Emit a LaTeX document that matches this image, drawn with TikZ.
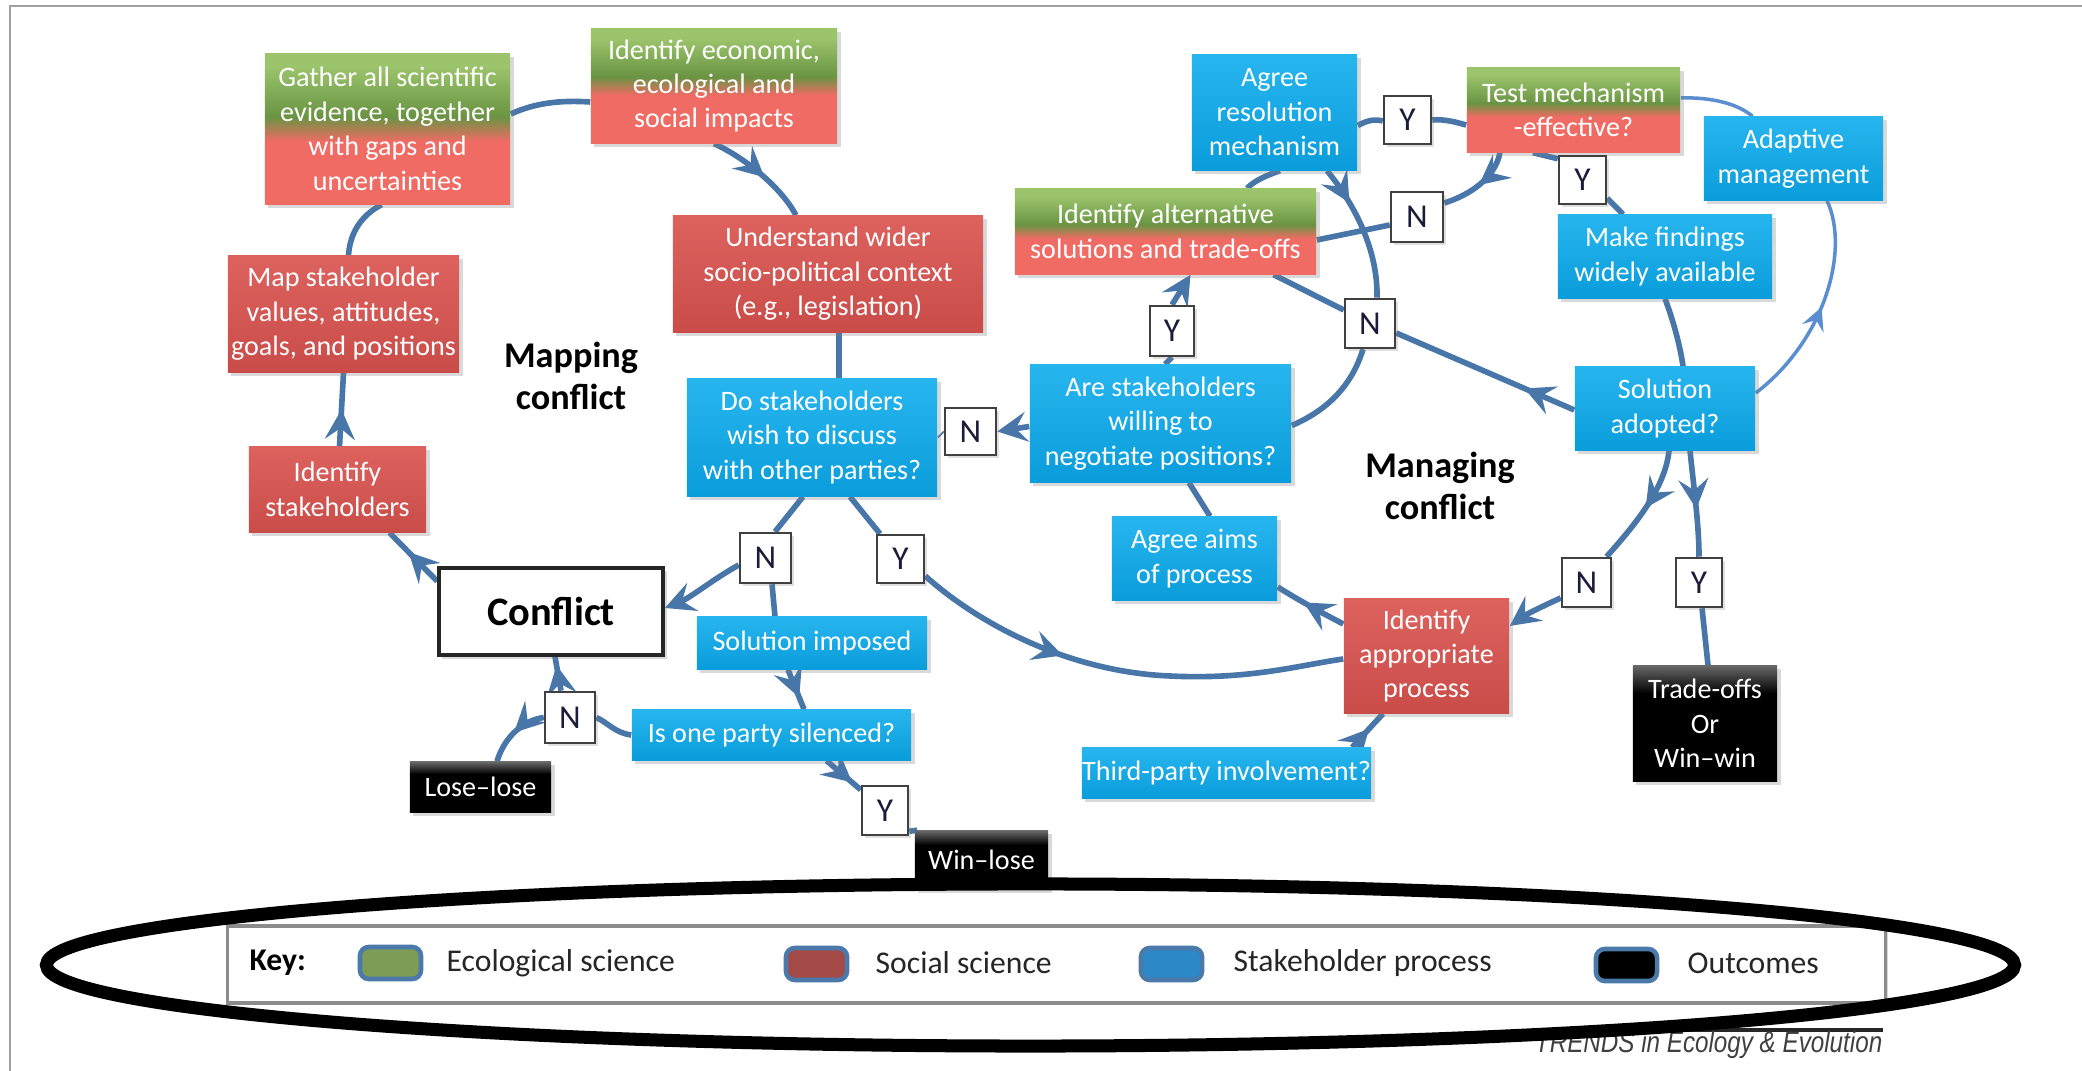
\documentclass[tikz,border=0pt]{standalone}
\usepackage{fontspec}
\setmainfont{Carlito}
\newfontfamily\arialf{Liberation Sans}
\usetikzlibrary{arrows.meta,shadows,decorations.markings,calc}
\pgfdeclarelayer{bg}
\pgfsetlayers{bg,main}
\definecolor{conn}{HTML}{4876A8}
\definecolor{connthin}{HTML}{5A8ED0}
\definecolor{stkblue}{HTML}{0A9DDB}
\definecolor{stkbluelt}{HTML}{27B5EE}
\definecolor{socred}{HTML}{C94C49}
\definecolor{socredlt}{HTML}{DD625E}
\definecolor{socsal}{HTML}{EF6B64}
\definecolor{ecogreen}{HTML}{6A9443}
\definecolor{ecogreenlt}{HTML}{9CC46C}
\definecolor{lblnavy}{HTML}{1B1B3A}
\definecolor{legblue}{HTML}{2D88C8}
\definecolor{leggreen}{HTML}{7E9C56}
\definecolor{legred}{HTML}{A34A47}
\definecolor{legborder}{HTML}{4B79A9}
\definecolor{framegray}{HTML}{A0A0A0}
\pgfdeclareverticalshading{ecosocshade}{100bp}{color(0bp)=(socsal); color(25bp)=(socsal); color(46bp)=(socsal); color(54bp)=(ecogreen); color(71bp)=(ecogreenlt); color(100bp)=(ecogreenlt)}
\pgfdeclareverticalshading{outshade}{100bp}{color(0bp)=(black); color(63bp)=(black); color(75bp)=(black!60); color(100bp)=(black!60)}
\tikzset{
  sz/.style 2 args={minimum width=#1*0.1mm, minimum height=#2*0.1mm},
  box/.style={rectangle, inner sep=0pt, align=center, text=white, font=\fontsize{8}{9.8}\selectfont, drop shadow={shadow xshift=1pt, shadow yshift=-1pt, opacity=0.3}},
  stk/.style={box, top color=stkbluelt, bottom color=stkblue},
  soc/.style={box, top color=socredlt, bottom color=socred},
  ecosoc/.style={box, shade, shading=ecosocshade},
  outcome/.style={box, shade, shading=outshade},
  yn/.style={rectangle, draw=black!75, line width=0.7pt, fill=white, inner sep=0pt, text=lblnavy, font=\fontsize{9.5}{10}\selectfont, drop shadow={shadow xshift=0.8pt, shadow yshift=-0.8pt, opacity=0.25}},
  conflictbox/.style={rectangle, draw=black!85, line width=1pt, fill=white, inner sep=0pt, font=\bfseries\fontsize{11.5}{12}\selectfont, drop shadow={shadow xshift=1pt, shadow yshift=-1pt, opacity=0.3}},
  bigtxt/.style={font=\bfseries\fontsize{10.3}{11.8}\selectfont, align=center, text=black},
  cn/.style={draw=conn, line width=1.6pt},
  cnthin/.style={draw=connthin, line width=1.0pt},
  endarr/.style={-{Stealth[length=8.5pt,width=8.5pt,inset=3.2pt]}},
  midarr/.style={postaction={decorate, decoration={markings, mark=at position #1 with {\arrow[conn]{Stealth[length=8.5pt,width=8.5pt,inset=3.2pt]}}}}},
  midarrthin/.style={postaction={decorate, decoration={markings, mark=at position #1 with {\arrow[connthin]{Stealth[length=6.5pt,width=6.5pt,inset=2.5pt]}}}}},
  swatch/.style={rectangle, rounded corners=2.5pt, draw=legborder, line width=1.3pt, sz={61}{32}},
  legtext/.style={anchor=west, inner sep=0pt, font=\fontsize{9}{10}\selectfont, text=black!85},
}
\begin{document}
\begin{tikzpicture}[x=0.01cm,y=-0.01cm]
\useasboundingbox (0,0) rectangle (2082,1071);
% ---------- nodes ----------
\node[ecosoc, sz={245}{150}] (gather) at (387.5,129) {Gather all scientific\\evidence, together\\with gaps and\\uncertainties};
\node[ecosoc, sz={246}{114}] (econ) at (714,86) {Identify economic,\\ecological and\\social impacts};
\node[soc, sz={310}{116}] (under) at (828,274) {Understand wider\\socio-political context\\(e.g., legislation)};
\node[soc, sz={231}{116}] (mapst) at (343.5,314) {Map stakeholder\\values, attitudes,\\goals, and positions};
\node[soc, sz={177}{85}] (idst) at (337.5,489.5) {Identify\\stakeholders};
\node[conflictbox, sz={224}{87}] (conflict) at (551,611.5) {Conflict};
\node[stk, sz={250}{117}] (dost) at (812,437.5) {Do stakeholders\\wish to discuss\\with other parties?};
\node[yn, sz={51}{47}] (nDo) at (970.5,431.5) {N};
\node[stk, sz={261}{117}] (arest) at (1160.5,423.5) {Are stakeholders\\willing to\\negotiate positions?};
\node[stk, sz={165}{115}] (agreeres) at (1274.5,112.5) {Agree\\resolution\\mechanism};
\node[yn, sz={47}{48}] (yRes) at (1407.5,120) {Y};
\node[ecosoc, sz={213}{84}] (test) at (1573.5,110) {Test mechanism\\-effective?};
\node[stk, sz={179}{83}] (adapt) at (1793.5,158.5) {Adaptive\\management};
\node[yn, sz={47}{48}] (yTest) at (1582.5,180) {Y};
\node[ecosoc, sz={301}{85}] (altern) at (1165.5,231.5) {Identify alternative\\solutions and trade-offs};
\node[yn, sz={52}{50}] (nAlt) at (1417,217) {N};
\node[stk, sz={214}{83}] (findings) at (1665,256.5) {Make findings\\widely available};
\node[yn, sz={44}{50}] (yAre) at (1172,331) {Y};
\node[yn, sz={50}{49}] (nMid) at (1370,323.5) {N};
\node[stk, sz={180}{83}] (adopted) at (1665,408.5) {Solution\\adopted?};
\node[bigtxt] (managing) at (1440,486) {Managing\\conflict};
\node[bigtxt] (mapping) at (571,376) {Mapping\\conflict};
\node[stk, sz={165}{83}] (aims) at (1194.5,558.5) {Agree aims\\of process};
\node[soc, sz={165}{114}] (approp) at (1426.5,656) {Identify\\appropriate\\process};
\node[yn, sz={49}{49}] (nAdopt) at (1586.5,582.5) {N};
\node[yn, sz={46}{49}] (yAdopt) at (1699,582.5) {Y};
\node[outcome, sz={144}{115}] (tradeoffs) at (1705,723.5) {Trade-offs\\Or\\Win–win};
\node[stk, sz={289}{50}] (third) at (1226.5,773) {Third-party involvement?};
\node[yn, sz={51}{50}] (nDo2) at (765.5,558) {N};
\node[yn, sz={47}{48}] (yDo) at (900.5,559) {Y};
\node[stk, sz={230}{52}] (imposed) at (812,643) {Solution imposed};
\node[stk, sz={279}{50}] (silenced) at (771.5,735) {Is one party silenced?};
\node[yn, sz={50}{51}] (nSil) at (570,717.5) {N};
\node[outcome, sz={141}{50}] (loselose) at (480.5,787) {Lose–lose};
\node[yn, sz={46}{49}] (ySil) at (885,810.5) {Y};
\node[outcome, sz={133}{58}] (winlose) at (981.5,860) {Win–lose};
% ---------- legend ----------
\node[rectangle, draw=black!45, line width=0.9pt, fill=white, inner sep=0pt, sz={1657}{77}, drop shadow={shadow xshift=0.6pt, shadow yshift=-0.6pt, opacity=0.3}] (legend) at (1056.5,964.5) {};
\node[anchor=west, inner sep=0pt, font=\bfseries\fontsize{9}{10}\selectfont] (key) at (249,963) {Key:};
\node[swatch, fill=leggreen] (sw1) at (390.5,963) {};
\node[legtext] (lt1) at (446,963) {Ecological science};
\node[swatch, fill=legred] (sw2) at (816.5,964) {};
\node[legtext] (lt2) at (875,963) {Social science};
\node[swatch, fill=legblue] (sw3) at (1171.5,964) {};
\node[legtext] (lt3) at (1233,963) {Stakeholder process};
\node[swatch, fill=black] (sw4) at (1626.5,965) {};
\node[legtext] (lt4) at (1687,963) {Outcomes};
\draw[line width=1.1pt, black!85] (1538,1030) -- (1883,1030);
\node[anchor=base east, inner sep=0pt, font=\arialf\itshape\fontsize{8.4}{9}\selectfont, text=black!75] (trends) at (1883,1053) {\scalebox{0.82}[1]{TRENDS in Ecology \& Evolution}};
% ---------- connectors ----------
\begin{pgfonlayer}{bg}
\draw[framegray, line width=0.8pt] (10,1071) -- (10,6) -- (2082,6);
\draw[cn, midarr=0.6] ([yshift=-0.15cm]conflict.north west) -- ([xshift=0.52cm]idst.south);
\draw[cn, midarr=0.5] ([xshift=0.02cm]idst.north) -- (mapst.south);
\draw[cn] ([xshift=0.05cm]mapst.north) .. controls (350,232) and (362,215) .. ([xshift=-0.06cm]gather.south);
\draw[cn] ([yshift=0.15cm]gather.east) .. controls (535,103) and (560,100) .. ([yshift=-0.16cm]econ.west);
\draw[cn, midarr=0.55] (econ.south) .. controls (740,155) and (780,185) .. ([xshift=-0.32cm]under.north);
\draw[cn] ([xshift=0.11cm]under.south) -- ([xshift=0.27cm]dost.north);
\draw[cn] ([xshift=-0.09cm]dost.south) -- ([xshift=0.095cm]nDo2.north);
\draw[cn, endarr] ([yshift=-0.07cm]nDo2.west) .. controls (715,578) and (690,598) .. ([yshift=0.035cm]conflict.east);
\draw[cn] ([xshift=0.065cm]nDo2.south) -- ([xshift=-0.37cm]imposed.north);
\draw[cn, midarr=0.7] ([xshift=-0.24cm]imposed.south) -- ([xshift=0.325cm]silenced.north);
\draw[cn] (silenced.west) .. controls (615,733) and (607,722) .. (nSil.east);
\draw[cn, midarr=0.75] ([xshift=-0.09cm]nSil.north) -- ([xshift=0.04cm]conflict.south);
\draw[cn, midarr=0.5] (nSil.west) .. controls (525,720) and (505,735) .. ([xshift=0.165cm]loselose.north);
\draw[cn, midarr=0.75] ([xshift=0.55cm]silenced.south) -- ([yshift=-0.05cm]ySil.north west);
\draw[cn] ([yshift=0.05cm]ySil.south east) -- ([xshift=0.03cm]winlose.north west);
\draw[cn] ([xshift=0.38cm]dost.south) -- ([xshift=-0.205cm]yDo.north);
\draw[cn, midarr=0.36] ([yshift=-0.17cm]yDo.east) .. controls (980,625) and (1070,672) .. (1170,676) .. controls (1250,680) and (1300,665) .. ([yshift=-0.03cm]approp.west);
\draw[cn, endarr] ([yshift=-0.03cm]arest.west) -- (nDo.east);
\draw[conn, line width=0.5pt] (nDo.west) -- (dost.east);
\draw[cn] ([xshift=0.045cm]arest.north) -- (yAre.south);
\draw[cn, endarr] (yAre.north) -- ([xshift=0.25cm]altern.south);
\draw[cn, midarr=0.28] ([xshift=0.525cm]agreeres.south) .. controls (1355,205) and (1378,250) .. ([xshift=0.07cm]nMid.north);
\draw[cn] ([xshift=-0.07cm]nMid.south) .. controls (1352,385) and (1328,410) .. ([yshift=-0.02cm]arest.east);
\draw[cn] ([xshift=0.055cm]agreeres.south) .. controls (1268,175) and (1255,180) .. ([xshift=0.815cm]altern.north);
\draw[cn] ([yshift=-0.13cm]agreeres.east) .. controls (1368,120) and (1375,119) .. ([yshift=-0.01cm]yRes.west);
\draw[cn] (yRes.east) .. controls (1445,119) and (1455,122) .. ([yshift=-0.15cm]test.west);
\draw[cn, midarr=0.5] ([xshift=-0.735cm]test.south) .. controls (1495,178) and (1470,195) .. ([yshift=0.14cm]nAlt.east);
\draw[cn] ([yshift=-0.08cm]nAlt.west) -- ([yshift=-0.085cm]altern.east);
\draw[cn] ([xshift=-0.405cm]test.south) -- ([yshift=-0.04cm]yTest.north west);
\draw[cn] ([yshift=0.07cm]yTest.south east) -- ([xshift=-0.42cm]findings.north);
\draw[cnthin] ([yshift=0.12cm]test.east) .. controls (1712,97) and (1738,104) .. ([xshift=-0.41cm]adapt.north);
\draw[cnthin, midarrthin=0.5] ([yshift=0.155cm]adopted.east) .. controls (1825,340) and (1850,250) .. ([xshift=0.335cm]adapt.south);
\draw[cn] (findings.south) .. controls (1673,320) and (1680,345) .. ([xshift=0.18cm]adopted.north);
\draw[cn, midarr=0.28] ([yshift=-0.015cm]adopted.west) -- ([yshift=-0.095cm]nMid.east);
\draw[cn] ([yshift=0.135cm]nMid.west) -- ([xshift=1.08cm]altern.south);
\draw[cn, midarr=0.5] ([xshift=0.04cm]adopted.south) .. controls (1665,490) and (1632,528) .. ([xshift=0.2cm]nAdopt.north);
\draw[cn, endarr] ([yshift=-0.155cm]nAdopt.west) .. controls (1545,605) and (1525,615) .. ([yshift=0.3cm]approp.east);
\draw[cn, midarr=0.55] ([xshift=0.25cm]adopted.south) .. controls (1694,490) and (1699,525) .. (yAdopt.north);
\draw[cn] ([xshift=0.03cm]yAdopt.south) -- ([xshift=0.03cm]tradeoffs.north);
\draw[cn, midarr=0.6] ([yshift=0.32cm]approp.west) .. controls (1320,612) and (1295,598) .. ([yshift=-0.285cm]aims.east);
\draw[cn] ([xshift=0.285cm]arest.south) -- ([xshift=0.155cm]aims.north);
\draw[cn, midarr=0.55] ([xshift=1.255cm]third.north) -- ([xshift=-0.435cm]approp.south);
\end{pgfonlayer}
% ---------- highlight ellipse ----------
\draw[black, line width=3.7pt] (1030.5,965) ellipse [x radius=9.835cm, y radius=0.81cm];
\end{tikzpicture}
\end{document}
